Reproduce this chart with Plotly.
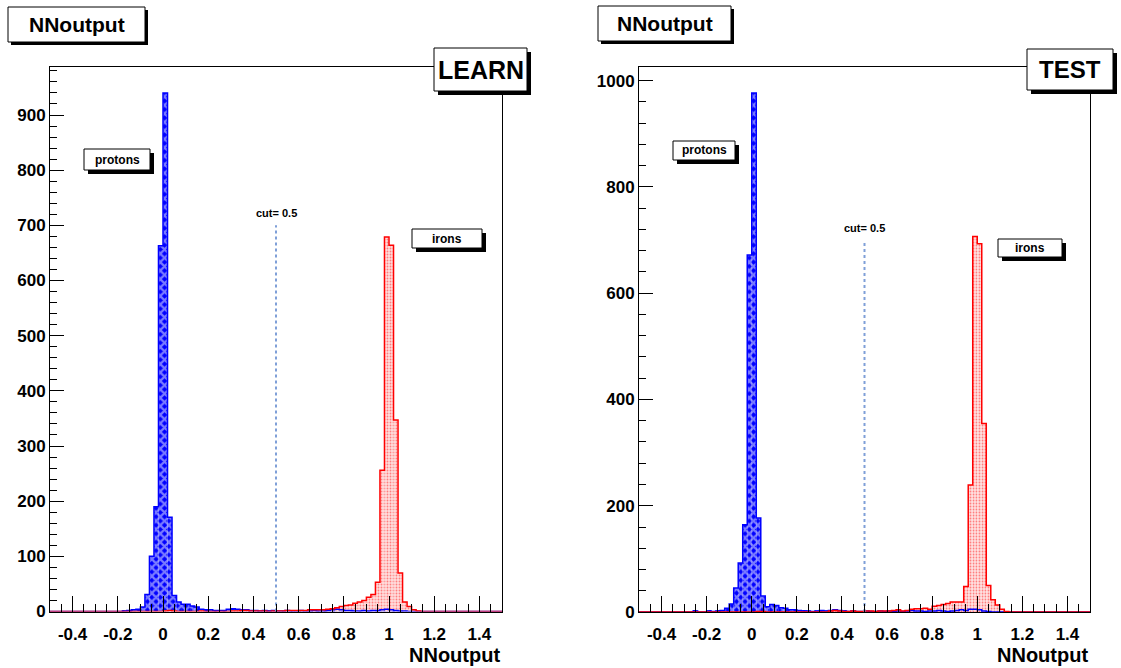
import plotly.graph_objects as go

# ---------------- data ----------------
X_MIN, X_MAX, NBINS = -0.5, 1.5, 100
CUT_VALUE = 0.5
CUT_HEIGHT = 700

learn_protons = [
    0, 0, 0, 0, 0, 0, 0, 0, 0, 0,
    0, 0, 0, 0, 0, 0, 1, 2, 3, 4,
    8, 31, 100, 190, 663, 940, 171, 29, 17, 13,
    13, 10, 8, 4, 3, 3, 2, 2, 2, 4,
    5, 4, 3, 3, 2, 2, 1, 2, 1, 2,
    1, 1, 2, 1, 1, 2, 1, 1, 2, 1,
    1, 2, 3, 4, 3, 2, 2, 1, 1, 2,
    1, 2, 2, 3, 4, 3, 2, 1, 1, 0,
    0, 0, 0, 0, 0, 0, 0, 0, 0, 0,
    0, 0, 0, 0, 0, 0, 0, 0, 0, 0,
]
learn_irons = [
    0, 0, 0, 0, 0, 0, 0, 0, 0, 0,
    0, 0, 0, 0, 0, 0, 0, 0, 0, 0,
    0, 0, 0, 0, 0, 1, 2, 1, 0, 0,
    0, 0, 0, 1, 0, 0, 0, 0, 0, 0,
    1, 1, 2, 2, 1, 1, 1, 1, 0, 1,
    1, 1, 2, 2, 2, 2, 2, 3, 3, 3,
    3, 4, 5, 7, 9, 11, 12, 15, 17, 20,
    26, 31, 53, 256, 679, 664, 347, 70, 17, 9,
    3, 1, 0, 0, 0, 0, 0, 0, 0, 0,
    0, 0, 0, 0, 0, 0, 0, 0, 0, 0,
]
test_protons = [
    0, 0, 0, 0, 0, 0, 0, 0, 0, 0,
    0, 0, 2, 0, 0, 2, 1, 2, 3, 7,
    15, 45, 92, 164, 672, 977, 177, 30, 10, 14,
    12, 8, 7, 4, 4, 3, 2, 2, 1, 2,
    3, 2, 3, 4, 3, 2, 1, 2, 1, 1,
    2, 1, 1, 2, 1, 2, 1, 2, 1, 2,
    3, 2, 2, 1, 2, 2, 3, 2, 1, 2,
    3, 4, 3, 5, 5, 4, 2, 1, 0, 0,
    0, 0, 0, 0, 0, 0, 0, 0, 0, 0,
    0, 0, 0, 0, 0, 0, 0, 0, 0, 0,
]
test_irons = [
    0, 0, 0, 0, 0, 0, 0, 0, 0, 0,
    0, 0, 0, 0, 0, 0, 0, 0, 0, 0,
    0, 0, 0, 0, 0, 0, 1, 1, 0, 0,
    0, 0, 0, 0, 0, 0, 0, 0, 0, 0,
    0, 0, 2, 3, 2, 1, 1, 2, 1, 1,
    2, 2, 1, 2, 2, 2, 3, 4, 2, 3,
    5, 6, 6, 7, 5, 11, 12, 14, 16, 19,
    19, 19, 48, 239, 707, 693, 355, 50, 23, 13,
    5, 1, 0, 0, 0, 0, 0, 0, 0, 0,
    0, 0, 0, 0, 0, 0, 0, 0, 0, 0,
]
x_tick_vals = [-0.4, -0.2, 0, 0.2, 0.4, 0.6, 0.8, 1.0, 1.2, 1.4]
x_tick_text = ["-0.4", "-0.2", "0", "0.2", "0.4", "0.6", "0.8", "1", "1.2", "1.4"]
panel_labels = ["LEARN", "TEST"]

# ---------------- geometry helpers ----------------
W, H = 1121, 668
H_EFF = 658  # measured rendered height of the figure
FONT = "Liberation Sans, Arial, Helvetica, sans-serif"


def px(x):
    return x / W


def py(y):
    return 1 - y / H_EFF


BIN_W = (X_MAX - X_MIN) / NBINS
centers = [X_MIN + (i + 0.5) * BIN_W for i in range(NBINS)]
edges = [X_MIN + i * BIN_W for i in range(NBINS + 1)]

fig = go.Figure()


def add_hist(counts, xa, ya, kind):
    if kind == "p":
        marker = dict(color="#0000ff", line=dict(width=0),
                      pattern=dict(shape="x", fgcolor="#f4f6ff", bgcolor="#0000ff",
                                   size=6, solidity=0.6, fillmode="overlay"))
    else:
        marker = dict(color="#ffdede", line=dict(width=0),
                      pattern=dict(shape=".", fgcolor="#ff2020", bgcolor="#ffdede",
                                   size=3, solidity=0.3, fillmode="overlay"))
    fig.add_trace(go.Bar(x=centers, y=counts, width=BIN_W, marker=marker,
                         xaxis=xa, yaxis=ya, hoverinfo="skip", showlegend=False))


def add_outline(counts, xa, ya, color):
    fig.add_trace(go.Scatter(x=edges, y=list(counts) + [counts[-1]], mode="lines",
                             line=dict(color=color, width=1.5, shape="hv"),
                             xaxis=xa, yaxis=ya, hoverinfo="skip", showlegend=False))


for (pro, iro, xa, ya) in [(learn_protons, learn_irons, "x", "y"),
                           (test_protons, test_irons, "x2", "y2")]:
    add_hist(pro, xa, ya, "p")
    add_hist(iro, xa, ya, "i")
    add_outline(pro, xa, ya, "#0000ff")
    add_outline(iro, xa, ya, "#ff0000")
    fig.add_trace(go.Scatter(x=[CUT_VALUE, CUT_VALUE], y=[0, CUT_HEIGHT], mode="lines",
                             line=dict(color="#7f9fd8", width=2, dash="dot"),
                             xaxis=xa, yaxis=ya, hoverinfo="skip", showlegend=False))

tickfont = dict(family=FONT, size=17, color="black", weight="bold")


def xaxis_cfg(dom, anchor):
    return dict(domain=dom, anchor=anchor, range=[X_MIN, X_MAX],
                tickmode="array", tickvals=x_tick_vals, ticktext=x_tick_text,
                ticks="inside", ticklen=16, tickwidth=1, tickcolor="black",
                minor=dict(ticks="inside", ticklen=8, tickwidth=1, tickcolor="black",
                           dtick=0.05, tick0=0),
                ticklabelstandoff=7,
                showline=True, mirror=True, linecolor="black", linewidth=1,
                showgrid=False, zeroline=False, tickfont=tickfont, fixedrange=True)


def yaxis_cfg(dom, anchor, top, dt, mdt):
    return dict(domain=dom, anchor=anchor, range=[0, top],
                tick0=0, dtick=dt, ticks="inside", ticklen=14, tickwidth=1,
                tickcolor="black",
                minor=dict(ticks="inside", ticklen=7, tickwidth=1, tickcolor="black",
                           dtick=mdt, tick0=0),
                showline=True, mirror=True, linecolor="black", linewidth=1,
                showgrid=False, zeroline=False, tickfont=tickfont, fixedrange=True)


left_max = max(learn_protons + learn_irons) * 1.05
right_max = max(test_protons + test_irons) * 1.05

fig.update_layout(
    width=W, height=H, autosize=False,
    margin=dict(l=0, r=0, t=0, b=0),
    paper_bgcolor="white", plot_bgcolor="white",
    barmode="overlay", showlegend=False, hovermode=False,
    font=dict(family=FONT, color="black"),
    xaxis=xaxis_cfg([px(50), px(502)], "y"),
    yaxis=yaxis_cfg([py(611.5), py(67)], "x", left_max, 100, 20),
    xaxis2=xaxis_cfg([px(639), px(1090)], "y2"),
    yaxis2=yaxis_cfg([py(612), py(67)], "x2", right_max, 200, 40),
)

shapes = []
annotations = []


def box(x0, y0, x1, y1, text, size, sh=4):
    shapes.append(dict(type="rect", xref="paper", yref="paper", layer="above",
                       x0=px(x0 + sh), x1=px(x1 + sh), y0=py(y1 + sh), y1=py(y0 + sh),
                       fillcolor="black", line=dict(width=0)))
    shapes.append(dict(type="rect", xref="paper", yref="paper", layer="above",
                       x0=px(x0), x1=px(x1), y0=py(y1), y1=py(y0),
                       fillcolor="white", line=dict(color="black", width=1)))
    annotations.append(dict(xref="paper", yref="paper", x=px((x0 + x1) / 2),
                            y=py((y0 + y1) / 2), text=text, showarrow=False,
                            xanchor="center", yanchor="middle",
                            font=dict(family=FONT, size=size, color="black",
                                      weight="bold")))


# titles
box(8, 7, 145, 42, "NNoutput", 21, sh=3)
box(598, 6, 731, 41, "NNoutput", 21, sh=3)
# panel labels
box(434, 48, 527, 91, panel_labels[0], 25, sh=4)
box(1027, 49, 1113, 90, panel_labels[1], 24, sh=4)
# series labels
box(84, 149, 150, 170, "protons", 12, sh=4)
box(673, 141, 735, 160, "protons", 12, sh=4)
box(412, 229, 482, 248, "irons", 12, sh=4)
box(998, 239, 1062, 257, "irons", 12, sh=4)

# cut labels
for (xa, ya) in [("x", "y"), ("x2", "y2")]:
    annotations.append(dict(xref=xa, yref=ya, x=CUT_VALUE, y=CUT_HEIGHT,
                            text="cut= %g" % CUT_VALUE, showarrow=False,
                            xanchor="center", yanchor="bottom", yshift=4,
                            font=dict(family=FONT, size=11, color="black",
                                      weight="bold")))

# x-axis titles
for xr in [502, 1090]:
    annotations.append(dict(xref="paper", yref="paper", x=px(xr), y=py(655),
                            text="NNoutput", showarrow=False,
                            xanchor="right", yanchor="middle",
                            font=dict(family=FONT, size=20, color="black",
                                      weight="bold")))

fig.update_layout(shapes=shapes, annotations=annotations)
fig.write_html("out.html")
